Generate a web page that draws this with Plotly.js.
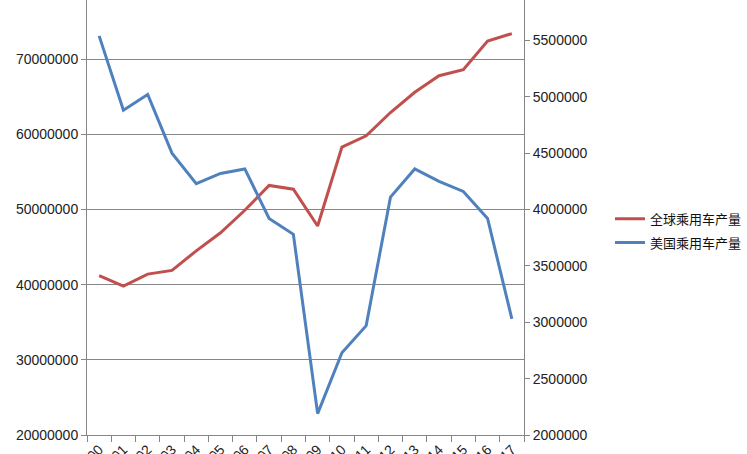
<!DOCTYPE html>
<html>
<head>
<meta charset="utf-8">
<script src="https://cdn.plot.ly/plotly-3.0.1.min.js"></script>
<style>
html,body{margin:0;padding:0;overflow:hidden;background:#fff;width:747px;height:454px;}
#chart{width:747px;height:520px;margin-top:-16px;}
</style>
</head>
<body>
<div id="chart"></div>
<script>
const years = ["2000","2001","2002","2003","2004","2005","2006","2007","2008","2009","2010","2011","2012","2013","2014","2015","2016","2017"];
const worldCars = [41200000,39800000,41400000,41900000,44500000,46900000,49900000,53200000,52700000,47800000,58300000,59800000,62900000,65600000,67800000,68600000,72400000,73400000];
const usCars = [5540000,4880000,5020000,4500000,4230000,4320000,4360000,3920000,3780000,2190000,2730000,2970000,4110000,4360000,4250000,4160000,3920000,3030000];
const worldName = "全球乘用车产量";
const usName = "美国乘用车产量";

const tickFont = {family: "Liberation Sans, Arial, sans-serif", size: 14, color: "#222"};
const traces = [
  {x: years, y: worldCars, name: worldName, type: "scatter", mode: "lines", legendgroup: "a",
   line: {color: "#C0504D", width: 3}, yaxis: "y"},
  {x: years, y: usCars, name: usName, type: "scatter", mode: "lines", legendgroup: "b",
   line: {color: "#4F81BD", width: 3}, yaxis: "y2"}
];
const layout = {
  width: 747, height: 520,
  margin: {l: 87, r: 222, t: 0, b: 69},
  paper_bgcolor: "#fff", plot_bgcolor: "#fff",
  showlegend: true,
  legend: {x: 1.196, xanchor: "left", y: 0.453, yanchor: "middle",
    font: {family: "Noto Sans CJK SC, sans-serif", size: 13, color: "#111"},
    traceorder: "grouped", tracegroupgap: 4, itemwidth: 30, bgcolor: "rgba(0,0,0,0)"},
  xaxis: {type: "category", range: [-0.5, years.length - 0.5], tickangle: -45, tickson: "boundaries",
    ticks: "outside", ticklen: 6, tickcolor: "#868686",
    showline: true, linecolor: "#868686", linewidth: 1,
    showgrid: false, tickfont: tickFont, zeroline: false},
  yaxis: {range: [20000000, 80000000], dtick: 10000000, tickformat: "d",
    ticks: "outside", ticklen: 5, tickcolor: "#868686",
    showline: true, linecolor: "#868686", linewidth: 1,
    showgrid: true, gridcolor: "#868686", gridwidth: 1,
    zeroline: false, tickfont: tickFont},
  yaxis2: {range: [2000000, 6000000], dtick: 500000, tickformat: "d",
    overlaying: "y", side: "right",
    ticks: "outside", ticklen: 5, tickcolor: "#868686",
    showline: true, linecolor: "#868686", linewidth: 1,
    showgrid: false, zeroline: false, tickfont: tickFont}
};
Plotly.newPlot("chart", traces, layout, {displayModeBar: false, staticPlot: true});
</script>
</body>
</html>
